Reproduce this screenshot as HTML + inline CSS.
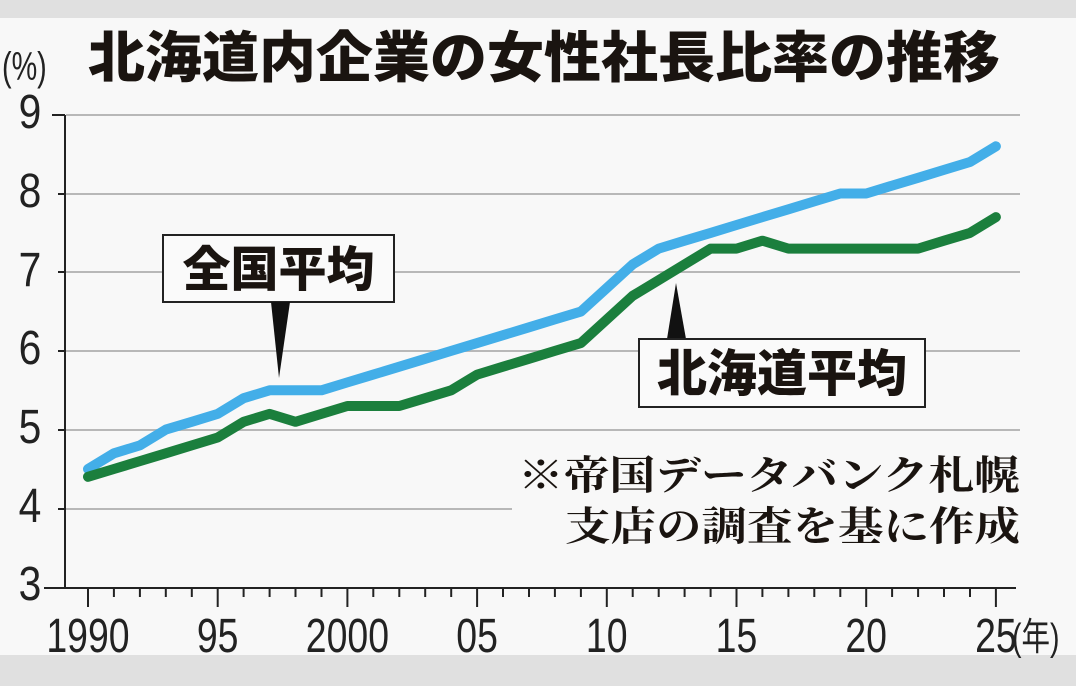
<!DOCTYPE html>
<html><head><meta charset="utf-8"><style>
html,body{margin:0;padding:0;background:#e2e2e2;}
svg{display:block}
</style></head><body>
<svg width="1076" height="686" viewBox="0 0 1076 686" xmlns="http://www.w3.org/2000/svg">
<rect x="0" y="0" width="1076" height="686" fill="#e0e0e0"/>
<rect x="0" y="18" width="1076" height="637" fill="#f8f8f8"/>
<g stroke="#b8b8b8" stroke-width="2">
<line x1="66" y1="115" x2="1020" y2="115"/>
<line x1="66" y1="194" x2="1020" y2="194"/>
<line x1="66" y1="272" x2="1020" y2="272"/>
<line x1="66" y1="351" x2="1020" y2="351"/>
<line x1="66" y1="430" x2="1020" y2="430"/>
<line x1="66" y1="509" x2="1020" y2="509"/>
</g>
<rect x="512" y="445" width="512" height="105" fill="#f8f8f8"/>
<g stroke="#222" stroke-width="2">
<line x1="65" y1="115" x2="65" y2="588"/>
<line x1="52" y1="115" x2="65" y2="115"/>
<line x1="58" y1="194" x2="65" y2="194"/>
<line x1="58" y1="272" x2="65" y2="272"/>
<line x1="58" y1="351" x2="65" y2="351"/>
<line x1="58" y1="430" x2="65" y2="430"/>
<line x1="58" y1="509" x2="65" y2="509"/>
<line x1="44" y1="588" x2="1016" y2="588"/>
</g>
<g stroke="#222" stroke-width="2">
<line x1="88.0" y1="588" x2="88.0" y2="607"/>
<line x1="113.9" y1="588" x2="113.9" y2="597"/>
<line x1="139.9" y1="588" x2="139.9" y2="597"/>
<line x1="165.8" y1="588" x2="165.8" y2="597"/>
<line x1="191.8" y1="588" x2="191.8" y2="597"/>
<line x1="217.7" y1="588" x2="217.7" y2="607"/>
<line x1="243.6" y1="588" x2="243.6" y2="597"/>
<line x1="269.6" y1="588" x2="269.6" y2="597"/>
<line x1="295.5" y1="588" x2="295.5" y2="597"/>
<line x1="321.5" y1="588" x2="321.5" y2="597"/>
<line x1="347.4" y1="588" x2="347.4" y2="607"/>
<line x1="373.3" y1="588" x2="373.3" y2="597"/>
<line x1="399.3" y1="588" x2="399.3" y2="597"/>
<line x1="425.2" y1="588" x2="425.2" y2="597"/>
<line x1="451.2" y1="588" x2="451.2" y2="597"/>
<line x1="477.1" y1="588" x2="477.1" y2="607"/>
<line x1="503.0" y1="588" x2="503.0" y2="597"/>
<line x1="529.0" y1="588" x2="529.0" y2="597"/>
<line x1="554.9" y1="588" x2="554.9" y2="597"/>
<line x1="580.9" y1="588" x2="580.9" y2="597"/>
<line x1="606.8" y1="588" x2="606.8" y2="607"/>
<line x1="632.7" y1="588" x2="632.7" y2="597"/>
<line x1="658.7" y1="588" x2="658.7" y2="597"/>
<line x1="684.6" y1="588" x2="684.6" y2="597"/>
<line x1="710.6" y1="588" x2="710.6" y2="597"/>
<line x1="736.5" y1="588" x2="736.5" y2="607"/>
<line x1="762.4" y1="588" x2="762.4" y2="597"/>
<line x1="788.4" y1="588" x2="788.4" y2="597"/>
<line x1="814.3" y1="588" x2="814.3" y2="597"/>
<line x1="840.3" y1="588" x2="840.3" y2="597"/>
<line x1="866.2" y1="588" x2="866.2" y2="607"/>
<line x1="892.1" y1="588" x2="892.1" y2="597"/>
<line x1="918.1" y1="588" x2="918.1" y2="597"/>
<line x1="944.0" y1="588" x2="944.0" y2="597"/>
<line x1="970.0" y1="588" x2="970.0" y2="597"/>
<line x1="995.9" y1="588" x2="995.9" y2="607"/>
</g>
<g font-family="Liberation Sans, sans-serif" font-size="48" fill="#222" text-anchor="middle" transform="scale(0.85,1)">
<text x="35.3" y="128">9</text>
<text x="35.3" y="207">8</text>
<text x="35.3" y="286">7</text>
<text x="35.3" y="364">6</text>
<text x="35.3" y="443">5</text>
<text x="35.3" y="522">4</text>
<text x="35.3" y="600">3</text>
</g>
<g font-family="Liberation Sans, sans-serif" font-size="48" fill="#222" text-anchor="middle" transform="scale(0.78,1)">
<text x="112.8" y="652">1990</text>
<text x="279.1" y="652">95</text>
<text x="445.4" y="652">2000</text>
<text x="611.7" y="652">05</text>
<text x="777.9" y="652">10</text>
<text x="944.2" y="652">15</text>
<text x="1110.5" y="652">20</text>
<text x="1276.8" y="652">25</text>
</g>
<text x="1012" y="650" font-family="Liberation Sans, Noto Sans CJK JP, sans-serif" font-size="38" fill="#222" transform="translate(1012,0) scale(0.75,1) translate(-1012,0)">(年)</text>
<text x="2" y="80" font-family="Liberation Sans, sans-serif" font-size="40" fill="#222" transform="translate(2,0) scale(0.72,1) translate(-2,0)">(%)</text>
<text x="88" y="77" font-family="Liberation Sans, Noto Sans CJK JP, sans-serif" font-size="55" font-weight="900" fill="#1a1410" textLength="912" lengthAdjust="spacingAndGlyphs">北海道内企業の女性社長比率の推移</text>
<polyline fill="none" stroke="#43aee8" stroke-width="10" stroke-linejoin="round" stroke-linecap="round" points="88.0,469.0 113.9,453.3 139.9,445.4 165.8,429.6 191.8,421.8 217.7,413.9 243.6,398.2 269.6,390.3 295.5,390.3 321.5,390.3 347.4,382.4 373.3,374.6 399.3,366.7 425.2,358.8 451.2,350.9 477.1,343.1 503.0,335.2 529.0,327.3 554.9,319.4 580.9,311.6 606.8,288.0 632.7,264.4 658.7,248.6 684.6,240.7 710.6,232.9 736.5,225.0 762.4,217.1 788.4,209.3 814.3,201.4 840.3,193.5 866.2,193.5 892.1,185.6 918.1,177.8 944.0,169.9 970.0,162.0 995.9,146.3"/>
<polyline fill="none" stroke="#1b7f3d" stroke-width="10" stroke-linejoin="round" stroke-linecap="round" points="88.0,476.8 113.9,469.0 139.9,461.1 165.8,453.3 191.8,445.4 217.7,437.5 243.6,421.8 269.6,413.9 295.5,421.8 321.5,413.9 347.4,406.0 373.3,406.0 399.3,406.0 425.2,398.2 451.2,390.3 477.1,374.6 503.0,366.7 529.0,358.8 554.9,350.9 580.9,343.1 606.8,319.4 632.7,295.8 658.7,280.1 684.6,264.4 710.6,248.6 736.5,248.6 762.4,240.7 788.4,248.6 814.3,248.6 840.3,248.6 866.2,248.6 892.1,248.6 918.1,248.6 944.0,240.7 970.0,232.9 995.9,217.1"/>
<rect x="163" y="235" width="231" height="67" fill="#fafafa" stroke="#222" stroke-width="2"/>
<polygon points="271,302 290,302 279,378" fill="#111"/>
<text x="278.5" y="286" text-anchor="middle" font-family="Liberation Sans, Noto Sans CJK JP, sans-serif" font-size="48" font-weight="900" fill="#1a1410">全国平均</text>
<polygon points="667,339 686,339 676,283" fill="#111"/>
<rect x="639" y="339" width="286" height="68" fill="#fafafa" stroke="#222" stroke-width="2"/>
<text x="782" y="391" text-anchor="middle" font-family="Liberation Sans, Noto Sans CJK JP, sans-serif" font-size="50" font-weight="900" fill="#1a1410">北海道平均</text>
<g font-family="Liberation Serif, Noto Serif CJK JP, Noto Serif CJK SC, serif" font-size="40" font-weight="700" fill="#1a1410" text-anchor="end">
<text x="1020" y="489" textLength="502" lengthAdjust="spacingAndGlyphs">※帝国データバンク札幌</text>
<text x="1020" y="540" textLength="455" lengthAdjust="spacingAndGlyphs">支店の調査を基に作成</text>
</g>
</svg>
</body></html>
